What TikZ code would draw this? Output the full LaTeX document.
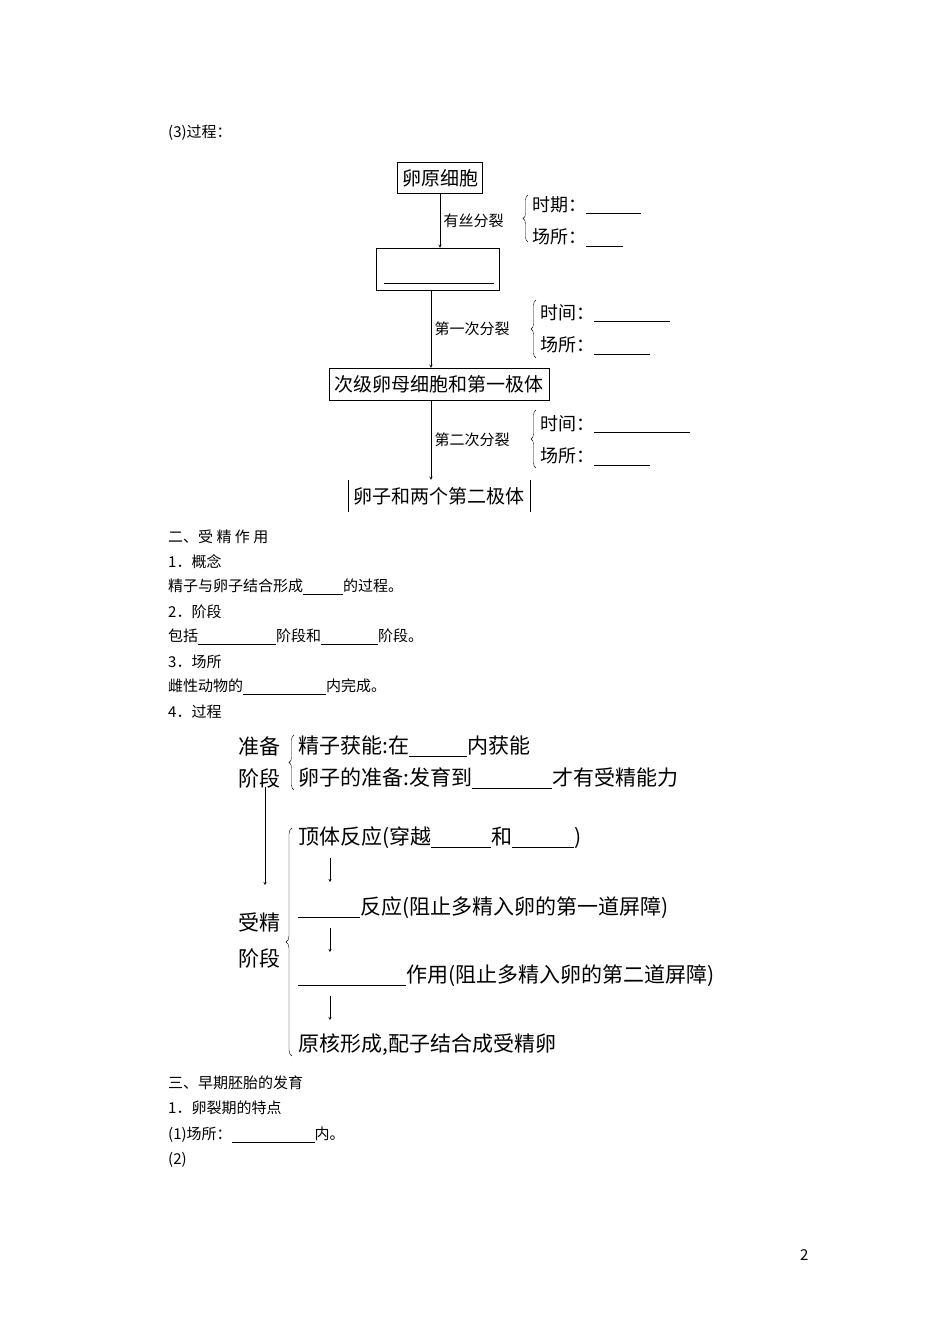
\documentclass[tikz,border=0pt]{standalone}
\usepackage{fontspec}
\setmainfont{Noto Sans CJK SC}
\usetikzlibrary{decorations.pathreplacing}
\newcommand{\bl}[1]{\rule[-3pt]{#1pt}{0.8pt}}
\begin{document}
\begin{tikzpicture}[x=1pt,y=-1pt,
  txt/.style={anchor=west,inner sep=0pt,font=\fontsize{15}{15}\selectfont},
  mid/.style={anchor=west,inner sep=0pt,font=\fontsize{18}{18}\selectfont},
  big/.style={anchor=west,inner sep=0pt,font=\fontsize{21}{21}\selectfont},
  box/.style={draw,inner sep=2pt,font=\fontsize{19}{19}\selectfont},
  arr/.style={->,>=stealth,thin},
  brc/.style={decorate,decoration={brace,amplitude=5pt,mirror}}]
\useasboundingbox (0,0) rectangle (950,1344);
\node[txt] (h3) at (168,133) {(3)过程：};
% top diagram
\node[box,minimum width=85,minimum height=31] (b1) at (440,178) {卵原细胞};
\node[draw,minimum width=123,minimum height=42] (b2) at (438,269) {};
\coordinate (b2l) at (384,283); \coordinate (b2r) at (494,283);
\draw[thick] (b2l) -- (b2r);
\node[box,minimum width=220,minimum height=32] (b3) at (439,384) {次级卵母细胞和第一极体};
\node[inner sep=2pt,font=\fontsize{19}{19}\selectfont,minimum width=182,minimum height=32] (b4) at (439,496) {卵子和两个第二极体};
\draw (b4.north west) -- (b4.south west) (b4.north east) -- (b4.south east);
\draw[arr] (b1.south) -- node[right,font=\fontsize{15}{15}\selectfont]{有丝分裂} (b1.south|-b2.north);
\draw[arr] (b2.south-|431,0) -- node[right,font=\fontsize{15}{15}\selectfont]{第一次分裂} (b3.north-|431,0);
\draw[arr] (b3.south-|431,0) -- node[right,font=\fontsize{15}{15}\selectfont]{第二次分裂} (b4.north-|431,0);
\coordinate (c1a) at (528,195); \coordinate (c1b) at (528,242);
\draw[brc] (c1a) -- (c1b);
\node[mid] (t1) at (532,205) {时期：\bl{55}};
\node[mid] (t2) at (532,238) {场所：\bl{37}};
\coordinate (c2a) at (536,300); \coordinate (c2b) at (536,358);
\draw[brc] (c2a) -- (c2b);
\node[mid] (t3) at (540,313) {时间：\bl{76}};
\node[mid] (t4) at (540,346) {场所：\bl{56}};
\coordinate (c3a) at (536,410); \coordinate (c3b) at (536,468);
\draw[brc] (c3a) -- (c3b);
\node[mid] (t5) at (540,424) {时间：\bl{96}};
\node[mid] (t6) at (540,457) {场所：\bl{56}};
% text
\node[txt] (s2) at (168,537) {二、受\ 精\ 作\ 用};
\node[txt] (p1) at (168,562) {1．概念};
\node[txt] (p1t) at (168,587) {精子与卵子结合形成\bl{40}的过程。};
\node[txt] (p2) at (168,612) {2．阶段};
\node[txt] (p2t) at (168,637) {包括\bl{78}阶段和\bl{57}阶段。};
\node[txt] (p3) at (168,662) {3．场所};
\node[txt] (p3t) at (168,687) {雌性动物的\bl{83}内完成。};
\node[txt] (p4) at (168,712) {4．过程};
% lower diagram
\node[big] (zb) at (238,746) {准备};
\node[big] (jd1) at (238,778) {阶段};
\coordinate (d1a) at (294,735); \coordinate (d1b) at (294,790);
\draw[brc] (d1a) -- (d1b);
\node[big] (l1) at (298,746) {精子获能:在\bl{58}内获能};
\node[big] (l2) at (298,778) {卵子的准备:发育到\bl{80}才有受精能力};
\coordinate (ar1) at (265,787); \coordinate (ar2) at (265,885);
\draw[arr] (ar1) -- (ar2);
\node[big] (sj) at (238,922) {受精};
\node[big] (jd2) at (238,958) {阶段};
\coordinate (d2a) at (292,828); \coordinate (d2b) at (292,1056);
\draw[brc,decoration={amplitude=6pt}] (d2a) -- (d2b);
\node[big] (m1) at (298,838) {顶体反应(穿越\bl{60}和\bl{62})};
\node[big] (m2) at (298,908) {\bl{62}反应(阻止多精入卵的第一道屏障)};
\node[big] (m3) at (298,976) {\bl{108}作用(阻止多精入卵的第二道屏障)};
\node[big] (m4) at (298,1045) {原核形成,配子结合成受精卵};
\coordinate (a1s) at (330,858); \coordinate (a1e) at (330,882);
\coordinate (a2s) at (330,928); \coordinate (a2e) at (330,952);
\coordinate (a3s) at (330,996); \coordinate (a3e) at (330,1020);
\draw[arr] (a1s) -- (a1e);
\draw[arr] (a2s) -- (a2e);
\draw[arr] (a3s) -- (a3e);
% final text
\node[txt] (s3) at (168,1083) {三、早期胚胎的发育};
\node[txt] (q1) at (168,1108) {1．卵裂期的特点};
\node[txt] (q1t) at (168,1135) {(1)场所：\bl{83}内。};
\node[txt] (q2) at (168,1160) {(2)};
\node[txt] (pg) at (800,1255) {2};
\end{tikzpicture}
\end{document}
